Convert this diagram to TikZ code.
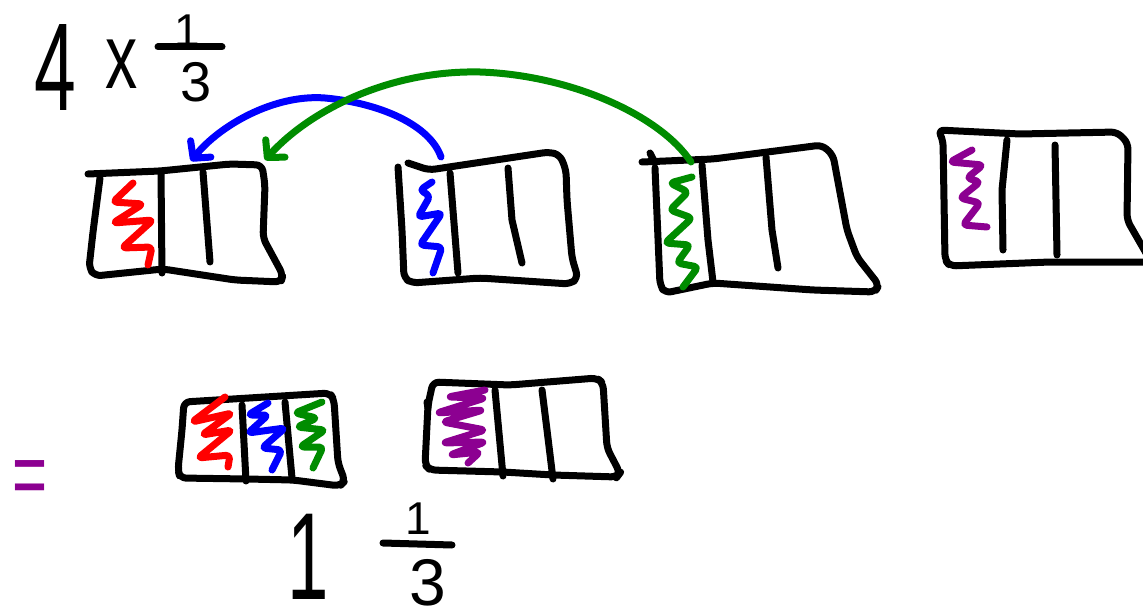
\documentclass[tikz,border=0pt]{standalone}
\usepackage{fontspec}
\setmainfont{Liberation Sans}
\usepackage{graphicx}
\usetikzlibrary{arrows.meta}
\definecolor{penred}{RGB}{255,0,0}
\definecolor{penblue}{RGB}{0,0,255}
\definecolor{pengreen}{RGB}{0,140,0}
\definecolor{penpurple}{RGB}{140,0,145}
\begin{document}
\begin{tikzpicture}[x=1pt,y=-1pt,line cap=round,line join=round,
  outline/.style={line width=7pt,black,rounded corners=6pt},
  divider/.style={line width=7pt,black},
  scrib/.style={line width=7pt,rounded corners=4pt},
  hand/.style={inner sep=0pt,outer sep=0pt,black},
  bar/.style={line width=7pt,black},
  arc/.style={line width=7pt,-{Straight Barb[length=12pt,width=26pt,round]}}]
\fill[white] (0,0) rectangle (1143,615);
\useasboundingbox (0,0) rectangle (1143,615);

% ---- top expression 4 x 1/3
\node[hand] (four) at (55,68) {\fontsize{125}{125}\selectfont\scalebox{0.6}[1]{4}};
\node[hand] (times) at (122,64) {\fontsize{92}{92}\selectfont\scalebox{0.7}[1]{x}};
\node[hand] (tnum) at (187,31) {\fontsize{46}{46}\selectfont 1};
\coordinate (tbarL) at (158,47);
\coordinate (tbarR) at (222,47);
\draw[bar] (tbarL) -- (tbarR);
\node[hand] (tden) at (196,82) {\fontsize{56}{56}\selectfont 3};

% ---- box 1 (red)
\draw[outline] (88,174) -- (160,171) -- (230,164) -- (262,165) -- (265,185)
  -- (263,238) -- (283,275) -- (281,282) -- (235,280) -- (163,269) -- (95,276)
  -- (89,268) -- (93,232) -- (100,178);
\draw[divider] (161,173) -- (162,273);
\draw[divider] (203,172) -- (210,262);
\draw[scrib,penred] (133,183) -- (113,202) -- (143,204) -- (113,223) -- (153,220)
  -- (122,248) -- (152,247) -- (148,265);

% ---- box 2 (blue)
\draw[outline] (398,167) -- (402,230) -- (404,278) -- (412,283) -- (480,278)
  -- (570,284) -- (578,278) -- (572,258) -- (567,200) -- (566,170) -- (560,155)
  -- (549,152) -- (429,170) -- (408,163);
\draw[divider] (450,173) -- (458,273);
\draw[divider] (508,168) -- (512,220) -- (522,263);
\draw[scrib,penblue] (432,182) -- (420,190) -- (430,196) -- (418,217) -- (442,213)
  -- (420,245) -- (442,247) -- (433,273);

% ---- box 3 (green)
\draw[outline] (642,162) -- (713,159) -- (822,145) -- (833,155) -- (847,230)
  -- (857,257) -- (879,285) -- (875,292) -- (813,290) -- (713,283) -- (665,293)
  -- (660,285) -- (655,168);
\draw[divider] (650,153) -- (655,163);
\draw[divider] (702,165) -- (708,240) -- (713,282);
\draw[divider] (766,157) -- (772,230) -- (778,268);
\draw[scrib,pengreen] (692,177) -- (670,183) -- (688,192) -- (670,210) -- (692,218)
  -- (665,243) -- (690,245) -- (677,263) -- (698,267) -- (683,287);

% ---- box 4 (purple)
\draw[outline] (1150,262) -- (1050,262) -- (950,266) -- (945,260) -- (943,140)
  -- (938,130) -- (1020,134) -- (1117,132) -- (1128,143) -- (1127,220) -- (1150,260);
\draw[divider] (1007,140) -- (1002,190) -- (1003,250);
\draw[divider] (1055,145) -- (1057,255);
\draw[scrib,penpurple] (972,150) -- (950,162) -- (983,165) -- (967,178) -- (980,182)
  -- (960,198) -- (980,203) -- (963,225) -- (987,227);

% ---- arrows
\coordinate (bstart) at (441,157);
\coordinate (bmid) at (325,98);
\coordinate (bend) at (191,161);
\draw[arc,penblue] (bstart) .. controls (430,125) and (380,103) .. (bmid)
  .. controls (275,94) and (220,125) .. (bend);
\coordinate (gstart) at (691,162);
\coordinate (gmid) at (480,72);
\coordinate (gend) at (265,160);
\draw[arc,pengreen] (gstart) .. controls (660,115) and (570,75) .. (gmid)
  .. controls (390,70) and (310,110) .. (gend);

% ---- equals sign
\node[hand,penpurple] (equals) at (30,484) {\fontsize{75}{75}\selectfont\scalebox{0.8}[1.25]{=}};

% ---- box 5 (three colours)
\draw[outline] (184,402) -- (330,393) -- (334,400) -- (338,463) -- (345,481)
  -- (340,486) -- (293,480) -- (247,479) -- (180,478) -- (178,470) -- (182,430)
  -- cycle;
\draw[divider] (242,405) -- (246,481);
\draw[divider] (285,402) -- (292,478);
\draw[scrib,penred] (225,397) -- (192,422) -- (232,413) -- (202,435) -- (232,430)
  -- (198,458) -- (230,455) -- (228,467);
\draw[scrib,penblue] (268,403) -- (248,415) -- (268,415) -- (248,433) -- (285,428)
  -- (262,448) -- (282,450) -- (272,470);
\draw[scrib,pengreen] (322,402) -- (295,413) -- (317,418) -- (297,427) -- (325,430)
  -- (300,447) -- (323,447) -- (313,468);

% ---- box 6 (purple)
\draw[outline] (433,382) -- (510,385) -- (597,378) -- (603,383) -- (607,448)
  -- (620,473) -- (617,477) -- (553,475) -- (503,472) -- (430,470) -- (425,465)
  -- (428,405) -- cycle;
\draw[divider] (427,402) -- (428,408);
\draw[divider] (495,390) -- (503,476);
\draw[divider] (542,390) -- (547,430) -- (553,479);
\draw[scrib,penpurple] (485,390) -- (448,397) -- (485,398) -- (437,413) -- (483,410)
  -- (443,422) -- (485,430) -- (443,443) -- (485,442) -- (450,455) -- (480,452)
  -- (468,463);

% ---- result 1 1/3
\node[hand] (whole) at (308,557) {\fontsize{124}{124}\selectfont\scalebox{0.6}[1]{1}};
\node[hand] (bnum) at (418,519) {\fontsize{46}{46}\selectfont 1};
\coordinate (bbarL) at (383,543);
\coordinate (bbarR) at (452,545);
\draw[bar] (bbarL) -- (bbarR);
\node[hand] (bden) at (428,583) {\fontsize{66}{66}\selectfont 3};
\end{tikzpicture}
\end{document}
